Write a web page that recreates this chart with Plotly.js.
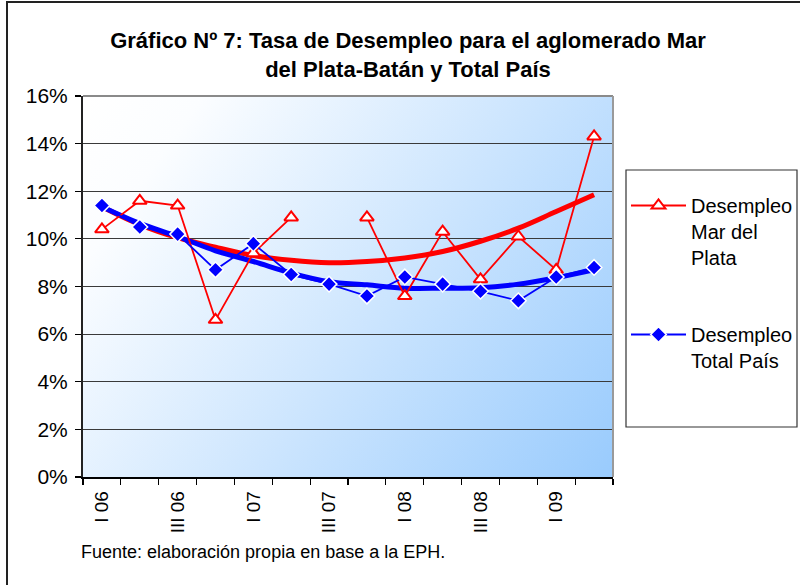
<!DOCTYPE html>
<html>
<head>
<meta charset="utf-8">
<script src="https://cdn.plot.ly/plotly-3.0.1.min.js"></script>
<style>html,body{margin:0;padding:0;background:#fff;}#chart{width:800px;height:585px;}</style>
</head>
<body>
<div id="chart"></div>
<script>
// Quarterly categories
const categories = ["I 06","II 06","III 06","IV 06","I 07","II 07","III 07","IV 07","I 08","II 08","III 08","IV 08","I 09","II 09"];
// Tick labels shown on the axis
const tickLabels = ["I 06","III 06","I 07","III 07","I 08","III 08","I 09"];
// Unemployment rate (%) Mar del Plata-Batán (III 07 missing)
const marDelPlata = [10.4, 11.6, 11.4, 6.6, 9.4, 10.9, null, 10.9, 7.6, 10.3, 8.3, 10.1, 8.7, 14.3];
// Unemployment rate (%) Total País
const totalPais = [11.4, 10.5, 10.2, 8.7, 9.8, 8.5, 8.1, 7.6, 8.4, 8.1, 7.8, 7.4, 8.4, 8.8];
// Trend lines
const trendMdp = [11.35, 10.6, 10.05, 9.65, 9.3, 9.1, 9.0, 9.05, 9.2, 9.47, 9.9, 10.45, 11.15, 11.85];
const trendTp  = [11.35, 10.65, 10.1, 9.5, 9.05, 8.56, 8.2, 8.07, 7.93, 7.93, 7.95, 8.1, 8.37, 8.7];

const xIdx = categories.map((c, i) => i);
const tickIdx = tickLabels.map(t => categories.indexOf(t));
const boundaries = categories.map((c, i) => i - 0.5).concat([categories.length - 0.5]);

function gradientURL() {
  const c = document.createElement('canvas');
  c.width = 530; c.height = 381;
  const ctx = c.getContext('2d');
  const g = ctx.createLinearGradient(0, 0, 530, 381);
  g.addColorStop(0, '#ffffff');
  g.addColorStop(0.15, '#fbfdff');
  g.addColorStop(1, '#99cbfd');
  ctx.fillStyle = g;
  ctx.fillRect(0, 0, 530, 381);
  return c.toDataURL('image/png');
}

const FONT = 'Liberation Sans, Arial, sans-serif';

const traces = [
  {x: xIdx, y: trendMdp, type: 'scatter', mode: 'lines', line: {color: '#ff0000', width: 5, shape: 'spline'}, showlegend: false, hoverinfo: 'skip'},
  {x: xIdx, y: trendTp, type: 'scatter', mode: 'lines', line: {color: '#0000ff', width: 5, shape: 'spline'}, showlegend: false, hoverinfo: 'skip'},
  {x: xIdx, y: marDelPlata, type: 'scatter', mode: 'lines+markers', name: 'Desempleo<br>Mar del<br>Plata',
   legendgroup: 'a', connectgaps: false,
   line: {color: '#ff0000', width: 1.8},
   marker: {symbol: 'triangle-up', size: 12, color: '#ffffff', line: {color: '#ff0000', width: 2}}},
  {x: xIdx, y: totalPais, type: 'scatter', mode: 'lines+markers', name: 'Desempleo<br>Total País',
   legendgroup: 'b',
   line: {color: '#0000ff', width: 1.8},
   marker: {symbol: 'diamond', size: 12, color: '#0000ff', line: {color: '#ffffff', width: 1.5}}}
];

const plotL = 83, plotR = 613, plotT = 96, plotB = 477;
const pw = plotR - plotL, ph = plotB - plotT;
const px = v => (v - plotL) / pw;
const py = v => (plotB - v) / ph;

const layout = {
  width: 800, height: 585,
  margin: {l: plotL, r: 800 - plotR, t: plotT, b: 585 - plotB, pad: 0, autoexpand: false},
  paper_bgcolor: '#ffffff',
  plot_bgcolor: 'rgba(0,0,0,0)',
  font: {family: FONT, color: '#000000'},
  title: {text: '<b>Gráfico Nº 7: Tasa de Desempleo para el aglomerado Mar<br>del Plata-Batán y Total País</b>',
          font: {family: FONT, size: 22, color: '#000'}, x: 408 / 800, xanchor: 'center', xref: 'container',
          y: 1 - 48 / 585, yanchor: 'middle', yref: 'container'},
  xaxis: {
    type: 'linear', range: [-0.5, categories.length - 0.5],
    tickmode: 'array', tickvals: tickIdx, ticktext: tickLabels, tickangle: -90,
    ticks: '', ticklabelstandoff: 5,
    tickfont: {family: FONT, size: 19, color: '#000'},
    showgrid: false, zeroline: false,
    showline: true, linecolor: '#000', linewidth: 1.5,
    minor: {tickmode: 'array', tickvals: boundaries, ticks: 'outside', ticklen: 6, tickcolor: '#000', tickwidth: 1.2, showgrid: false},
    fixedrange: true
  },
  yaxis: {
    range: [0, 16], dtick: 2, tick0: 0, ticksuffix: '%',
    ticks: 'outside', ticklen: 6, tickcolor: '#000', tickwidth: 1.2, ticklabelstandoff: 3,
    tickfont: {family: FONT, size: 21, color: '#000'},
    showgrid: true, gridcolor: '#3a3a3a', gridwidth: 1.2,
    zeroline: false, showline: true, linecolor: '#222', linewidth: 2,
    fixedrange: true
  },
  images: [{source: gradientURL(), xref: 'paper', yref: 'paper', x: 0, y: 1, sizex: 1, sizey: 1,
            sizing: 'stretch', xanchor: 'left', yanchor: 'top', layer: 'below'}],
  legend: {
    x: px(626), y: py(186), xanchor: 'left', yanchor: 'top',
    bgcolor: 'rgba(0,0,0,0)', borderwidth: 0,
    font: {family: FONT, size: 20, color: '#000'},
    traceorder: 'grouped', tracegroupgap: 48, valign: 'top', itemwidth: 55
  },
  shapes: [
    {type: 'line', xref: 'paper', yref: 'paper', x0: 0, x1: 1, y0: 1, y1: 1, line: {color: '#8a8a8a', width: 2}},
    {type: 'line', xref: 'paper', yref: 'paper', x0: 1, x1: 1, y0: 0, y1: 1, line: {color: '#9a9a9a', width: 2}},
    {type: 'rect', xref: 'paper', yref: 'paper', x0: px(626), x1: px(797), y0: py(427), y1: py(170),
     line: {color: '#333', width: 1.2}, fillcolor: 'rgba(0,0,0,0)'},
    {type: 'rect', xref: 'paper', yref: 'paper', x0: px(7), x1: px(805), y0: py(592), y1: py(2),
     line: {color: '#222', width: 2}, fillcolor: 'rgba(0,0,0,0)'}
  ],
  annotations: [
    {text: 'Fuente: elaboración propia en base a la EPH.', xref: 'paper', yref: 'paper',
     x: px(79), y: py(552), xanchor: 'left', yanchor: 'middle', showarrow: false,
     font: {family: FONT, size: 18, color: '#000'}}
  ],
  showlegend: true
};

Plotly.newPlot('chart', traces, layout, {displayModeBar: false, staticPlot: true});
</script>
</body>
</html>
